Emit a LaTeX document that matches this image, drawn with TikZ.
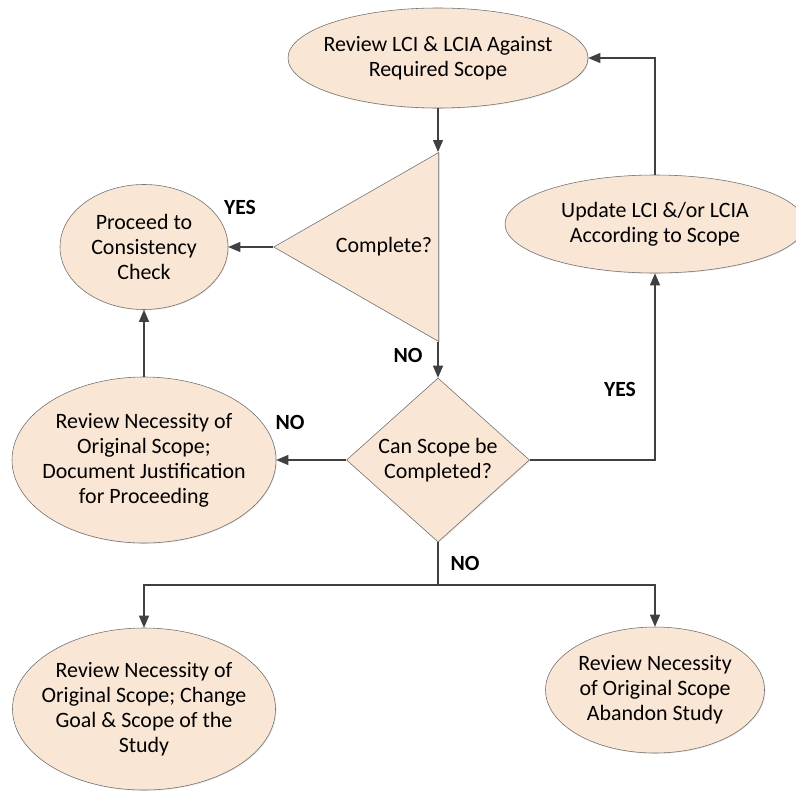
\documentclass[tikz,border=0pt]{standalone}
\usepackage{fontspec}
\setmainfont{Carlito}
\usepackage{tikz}
\usetikzlibrary{shapes.geometric, arrows.meta, shadows}
\definecolor{peach}{RGB}{250,230,213}
\definecolor{rim}{RGB}{110,110,110}
\definecolor{wire}{RGB}{64,64,64}
\tikzset{flowbox/.style={ellipse, draw=rim, fill=peach, inner xsep=-1.2cm, inner ysep=-0.6cm, align=center, drop shadow={opacity=0.2, shadow xshift=0.6pt, shadow yshift=-0.6pt}}}
\tikzset{flowdec/.style={draw=rim, fill=peach, inner xsep=-1cm, inner ysep=-0.6cm, align=center, drop shadow={opacity=0.2, shadow xshift=0.6pt, shadow yshift=-0.6pt}}}
\tikzset{wire/.style={draw=wire, line width=0.8pt, -{Triangle[length=0.3cm, width=0.25cm]}}}
\tikzset{answer/.style={font=\fontsize{15.4}{17.8}\selectfont\bfseries}}

\begin{document}
\begin{tikzpicture}[font=\fontsize{15.6}{17.8}\selectfont]
            \useasboundingbox (0, 0) rectangle (19.9, -19.775);
            \node[flowbox, minimum width=7.5cm, minimum height=2.5cm] (rev) at (10.95, -1.45) {Review LCI \& LCIA Against\\Required Scope};
            \node[flowdec, isosceles triangle, isosceles triangle stretches, shape border rotate=180, anchor=apex, minimum width=4.725cm, minimum height=4.125cm, inner sep=0pt] (cmp) at (6.825, -6.175) {};
            \node (cmptxt) at (9.6, -6.175) {Complete?};
            \node[flowbox, minimum width=4.2cm, minimum height=3.125cm] (proc) at (3.6, -6.175) {Proceed to\\Consistency\\Check};
            \node[flowdec, diamond, minimum width=4.575cm, minimum height=4.1cm] (can) at (10.95, -11.5) {Can Scope be\\Completed?};
            \node[flowbox, minimum width=6.6cm, minimum height=4.15cm] (just) at (3.6, -11.5) {Review Necessity of\\Original Scope;\\Document Justification\\for Proceeding};
            \node[flowbox, minimum width=7.5cm, minimum height=2.45cm] (upd) at (16.375, -5.6) {Update LCI \&/or LCIA\\According to Scope};
            \node[flowbox, minimum width=6.575cm, minimum height=4.05cm] (chg) at (3.6, -17.725) {Review Necessity of\\Original Scope; Change\\Goal \& Scope of the\\Study};
            \node[flowbox, minimum width=5.475cm, minimum height=3.15cm] (abd) at (16.375, -17.25) {Review Necessity\\of Original Scope\\Abandon Study};
            \coordinate (split) at (10.95, -14.625);
            % connectors
            \draw[wire] (rev.south) -- (rev.south |- cmp.right corner);
            \draw[wire] (cmp.apex) -- (proc.east);
            \draw[wire] (can.north |- cmp.left corner) -- (can.north);
            \draw[wire] (can.west) -- (just.east);
            \draw[wire] (just.north) -- (proc.south);
            \draw[wire] (can.east) -| (upd.south);
            \draw[wire] (upd.north) |- (rev.east);
            \draw[draw=wire, line width=0.8pt] (can.south) -- (split);
            \draw[wire] (split) -| (chg.north);
            \draw[wire] (split) -| (abd.north);
            % answers
            \node[answer] (y1) at (6.0, -5.175) {YES};
            \node[answer] (n1) at (10.2, -8.875) {NO};
            \node[answer] (n2) at (7.25, -10.55) {NO};
            \node[answer] (y2) at (15.5, -9.725) {YES};
            \node[answer] (n3) at (11.625, -14.075) {NO};
        \end{tikzpicture}
\end{document}
